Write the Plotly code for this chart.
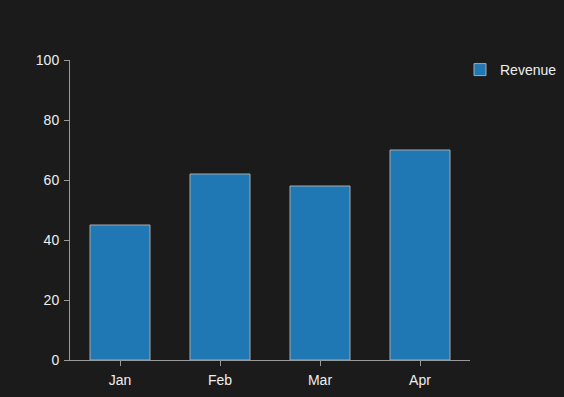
import plotly.graph_objects as go

months = ["Jan", "Feb", "Mar", "Apr"]
revenue = [45, 62, 58, 70]

fig = go.Figure()
fig.add_trace(go.Bar(
    x=months, y=revenue, name="Revenue",
    marker=dict(color="#1f77b4", line=dict(color="#aaaaaa", width=1)),
    showlegend=True,
))
fig.update_layout(
    width=564, height=397,
    paper_bgcolor="#1b1b1b", plot_bgcolor="#1b1b1b",
    margin=dict(l=70, r=94, t=60, b=37, autoexpand=False),
    font=dict(family="Liberation Sans, Arial, sans-serif", size=14, color="#eeeeee"),
    bargap=0.4,
    showlegend=True,
    legend=dict(x=0.975, y=1.02, xanchor="left", yanchor="top", font=dict(size=14, color="#eeeeee"),
                bgcolor="rgba(0,0,0,0)", itemwidth=30),
    xaxis=dict(showgrid=False, showline=True, linecolor="#999999", linewidth=1,
               ticks="outside", ticklen=5, tickcolor="#999999", zeroline=False,
               ticklabelstandoff=2),
    yaxis=dict(range=[0, 100], dtick=20, showgrid=False, showline=True, linecolor="#999999",
               linewidth=1, ticks="outside", ticklen=5, tickcolor="#999999", zeroline=False,
               ticklabelstandoff=2),
)
fig.write_html("out.html")
